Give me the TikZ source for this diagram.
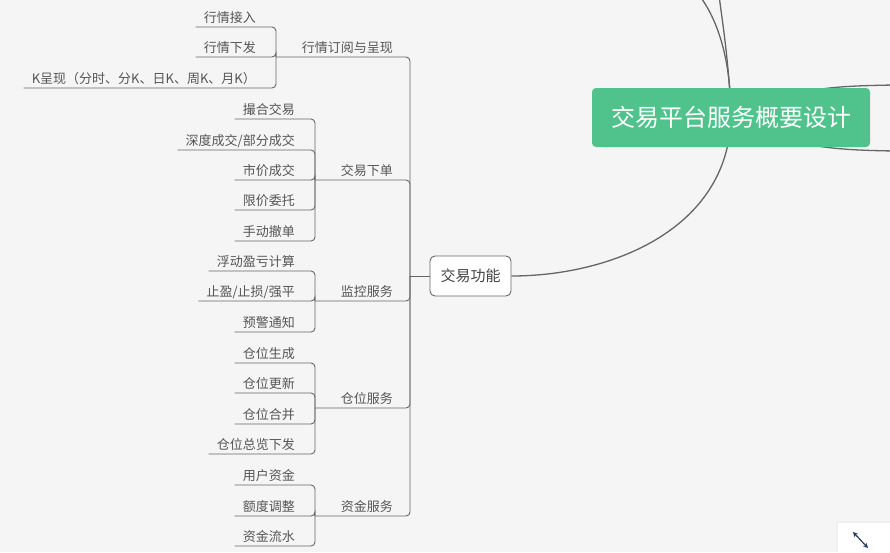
\documentclass[tikz,border=0pt]{standalone}
\usepackage{fontspec}
\newfontfamily\cjk{Noto Sans CJK SC}
\usepackage{xcolor}
\usetikzlibrary{arrows.meta, positioning, backgrounds}
\definecolor{mmbg}{HTML}{F5F5F5}
\definecolor{mmgreen}{HTML}{50C38C}
\definecolor{mmline}{HTML}{666666}
\definecolor{mmtext}{HTML}{555555}
\definecolor{mmicon}{HTML}{2A3A5C}

\tikzset{
    rootbox/.style={fill=mmgreen, rounded corners=4pt, text=white, inner sep=0pt,
        font=\cjk\fontsize{24}{28}\selectfont, minimum width=278pt, minimum height=59pt},
    topicbox/.style={draw=mmline, fill=white, rounded corners=5pt, line width=0.9pt,
        text=mmtext!80!black, font=\cjk\fontsize{15}{18}\selectfont,
        minimum width=81pt, minimum height=40pt},
    subtext/.style={font=\cjk\fontsize{13}{15}\selectfont, text=mmtext, inner sep=0pt, anchor=base east},
    leaftext/.style={font=\cjk\fontsize{13}{15}\selectfont, text=mmtext, inner xsep=8pt,
        inner ysep=4pt, text depth=0pt, anchor=south east},
    link/.style={draw=mmline, line width=0.9pt, rounded corners=4pt},
    curve/.style={draw=mmline, line width=1.3pt},
}

\begin{document}
\begin{tikzpicture}[x=1pt, y=-1pt]
\useasboundingbox (0,0) rectangle (890,552);
\clip (0,0) rectangle (890,552);

\node[rootbox] (root) at (731,117.5) {交易平台服务概要设计};
\node[topicbox] (func) at (470.5,276) {交易功能};

% off-screen branches of the root
\coordinate (up1) at (699,-5);
\coordinate (up2) at (719,-5);
\coordinate (east1) at (895,85);
\coordinate (east2) at (895,151);

\begin{scope}[on background layer]
\fill[mmbg] (0,0) rectangle (890,552);
\draw[curve] (root.center) .. controls (731,60) and (718,20) .. (up1);
\draw[curve] (root.center) .. controls (729,60) and (722,20) .. (up2);
\draw[curve] (root.center) .. controls (790,88) and (830,86) .. (east1);
\draw[curve] (root.center) .. controls (790,147) and (830,150) .. (east2);
\draw[curve] (root.center) .. controls (728,230) and (610,276) .. (func.east);
\end{scope}

\coordinate (hub) at (410,276);
\draw[link] (func.west) -- (hub);

% 行情订阅与呈现
\node[subtext] (s1) at (393,52) {行情订阅与呈现};
\coordinate (b1) at (276,57);
\draw[link] (hub) |- (b1);
\foreach \txt/\y [count=\i] in {行情接入/27, 行情下发/57, {K呈现（分时、分K、日K、周K、月K）}/88}
{
    \node[leaftext] (hq-\i) at (264,\y) {\txt};
    \draw[link] (b1) |- (hq-\i.south west);
}

% 交易下单
\node[subtext] (s2) at (393,175) {交易下单};
\coordinate (b2) at (315,180);
\draw[link] (hub) |- (b2);
\foreach \txt/\y [count=\i] in {撮合交易/119, {深度成交/部分成交}/150, 市价成交/180, 限价委托/210, 手动撤单/241}
{
    \node[leaftext] (jy-\i) at (303,\y) {\txt};
    \draw[link] (b2) |- (jy-\i.south west);
}

% 监控服务
\node[subtext] (s3) at (393,296) {监控服务};
\coordinate (b3) at (315,301);
\draw[link] (hub) |- (b3);
\foreach \txt/\y [count=\i] in {浮动盈亏计算/271, {止盈/止损/强平}/301, 预警通知/332}
{
    \node[leaftext] (jk-\i) at (303,\y) {\txt};
    \draw[link] (b3) |- (jk-\i.south west);
}

% 仓位服务
\node[subtext] (s4) at (393,403) {仓位服务};
\coordinate (b4) at (315,408);
\draw[link] (hub) |- (b4);
\foreach \txt/\y [count=\i] in {仓位生成/363, 仓位更新/393, 仓位合并/424, 仓位总览下发/454}
{
    \node[leaftext] (cw-\i) at (303,\y) {\txt};
    \draw[link] (b4) |- (cw-\i.south west);
}

% 资金服务
\node[subtext] (s5) at (393,511) {资金服务};
\coordinate (b5) at (315,516);
\draw[link] (hub) |- (b5);
\foreach \txt/\y [count=\i] in {用户资金/485, 额度调整/516, 资金流水/546}
{
    \node[leaftext] (zj-\i) at (303,\y) {\txt};
    \draw[link] (b5) |- (zj-\i.south west);
}

% expand button
\fill[black!6] (836,521) rectangle (890,552);
\fill[white] (838,523) rectangle (890,552);
\draw[mmicon, line width=1.2pt, {Stealth[length=5pt,width=5pt]}-{Stealth[length=5pt,width=5pt]}] (853,532) -- (868,548);
\end{tikzpicture}
\end{document}
